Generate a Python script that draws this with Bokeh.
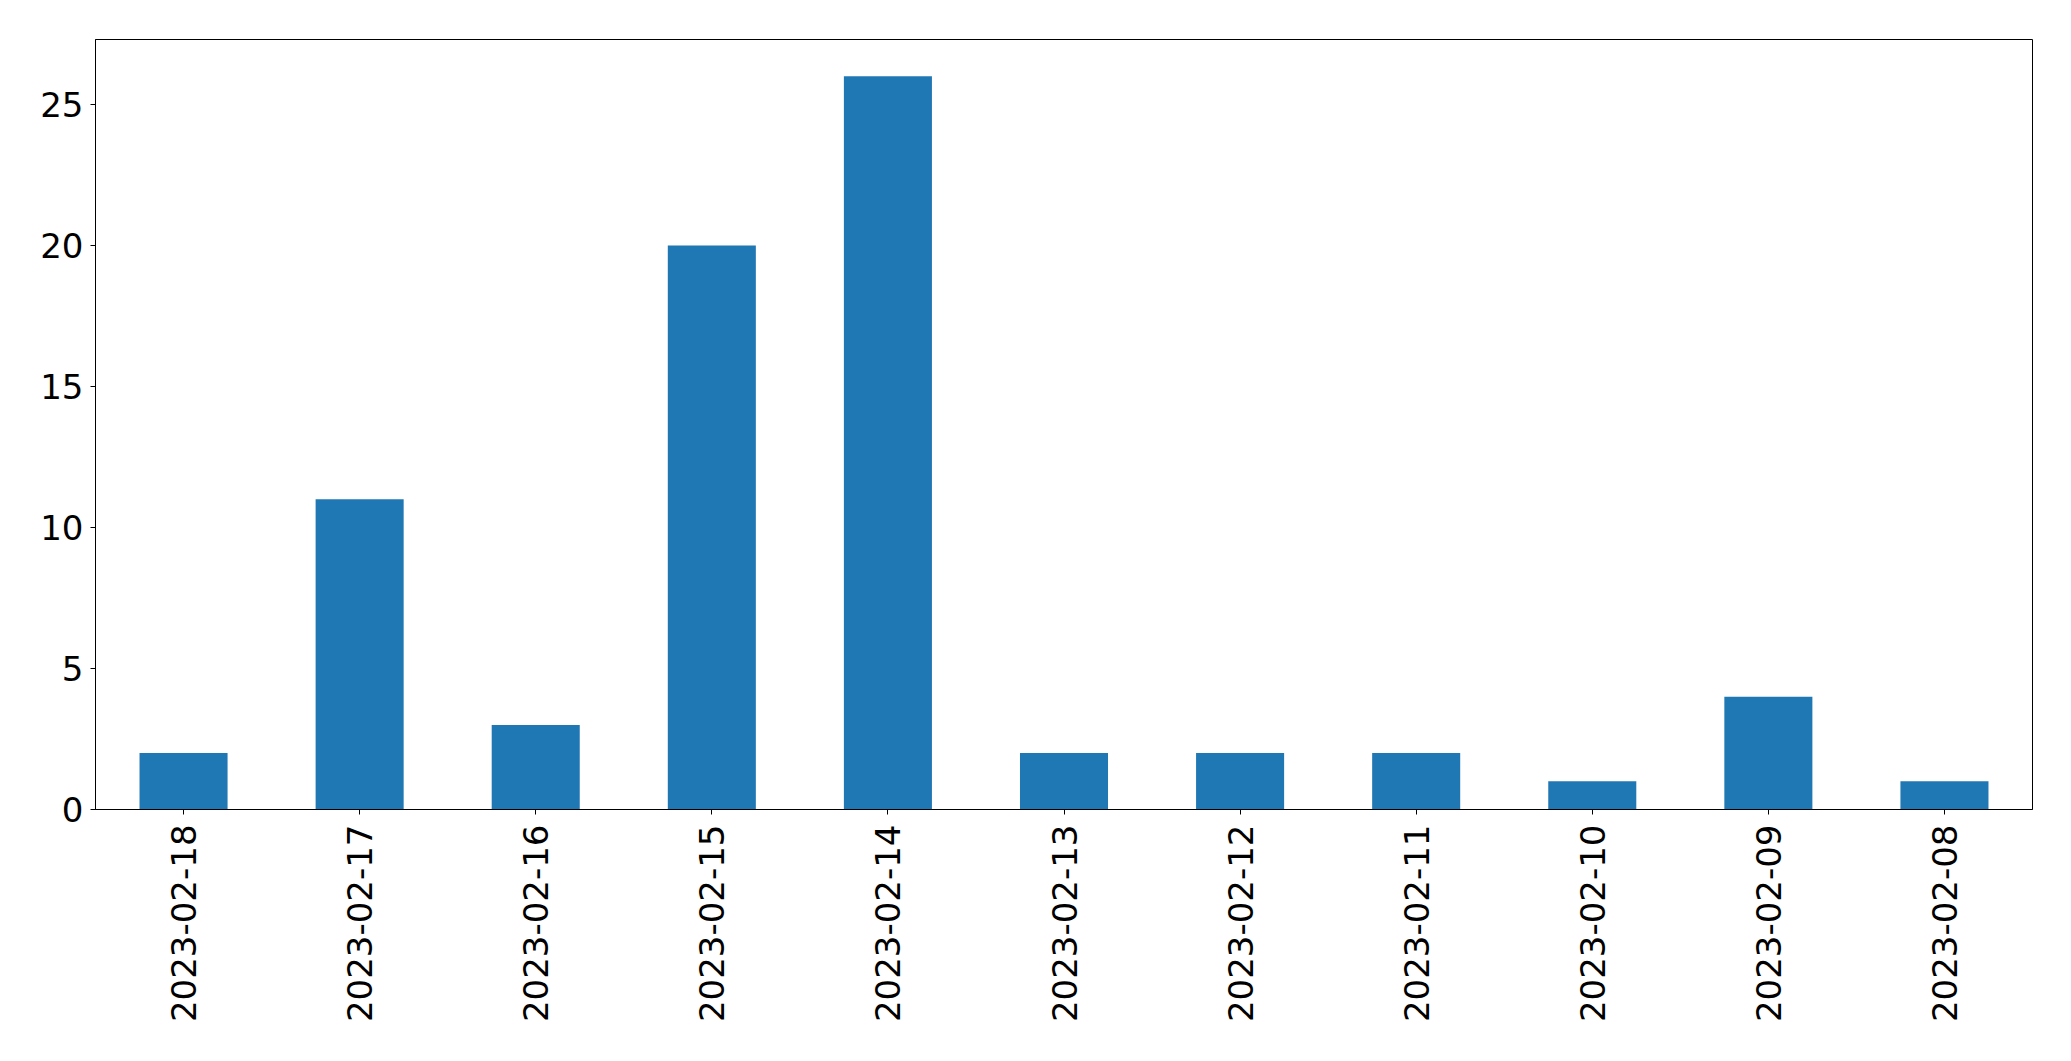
import math
from bokeh.plotting import figure
from bokeh.models import Range1d, FactorRange, FixedTicker
from bokeh.embed import file_html
from bokeh.resources import INLINE

dates = ["2023-02-18", "2023-02-17", "2023-02-16", "2023-02-15", "2023-02-14",
         "2023-02-13", "2023-02-12", "2023-02-11", "2023-02-10", "2023-02-09",
         "2023-02-08"]
counts = [2, 11, 3, 20, 26, 2, 2, 2, 1, 4, 1]
y_ticks = [0, 5, 10, 15, 20, 25]

p = figure(x_range=FactorRange(factors=dates, range_padding=0),
           y_range=Range1d(0, max(counts) * 1.05),
           frame_width=1937, frame_height=770,
           min_border_left=95, min_border_top=39, min_border_right=30, min_border_bottom=230,
           output_backend="svg", toolbar_location=None)

p.vbar(x=dates, top=counts, width=0.5, color="#1f77b4", line_color=None)

p.xgrid.visible = False
p.ygrid.visible = False
p.outline_line_color = "black"
p.outline_line_width = 1
p.outline_line_alpha = 1
p.background_fill_color = "white"
p.border_fill_color = "white"

p.yaxis.ticker = FixedTicker(ticks=y_ticks)
for ax in (p.xaxis[0], p.yaxis[0]):
    ax.major_label_text_font = "DejaVu Sans"
    ax.major_label_text_font_size = "34px"
    ax.major_label_text_color = "black"
    ax.major_tick_out = 5
    ax.major_tick_in = 0
    ax.minor_tick_out = 0
    ax.minor_tick_in = 0
    ax.axis_line_color = "black"
    ax.major_tick_line_color = "black"
p.yaxis.major_label_standoff = 7
p.xaxis.major_label_standoff = 10
p.xaxis.major_label_orientation = math.pi / 2

open("out.html", "w").write(file_html(p, INLINE))
